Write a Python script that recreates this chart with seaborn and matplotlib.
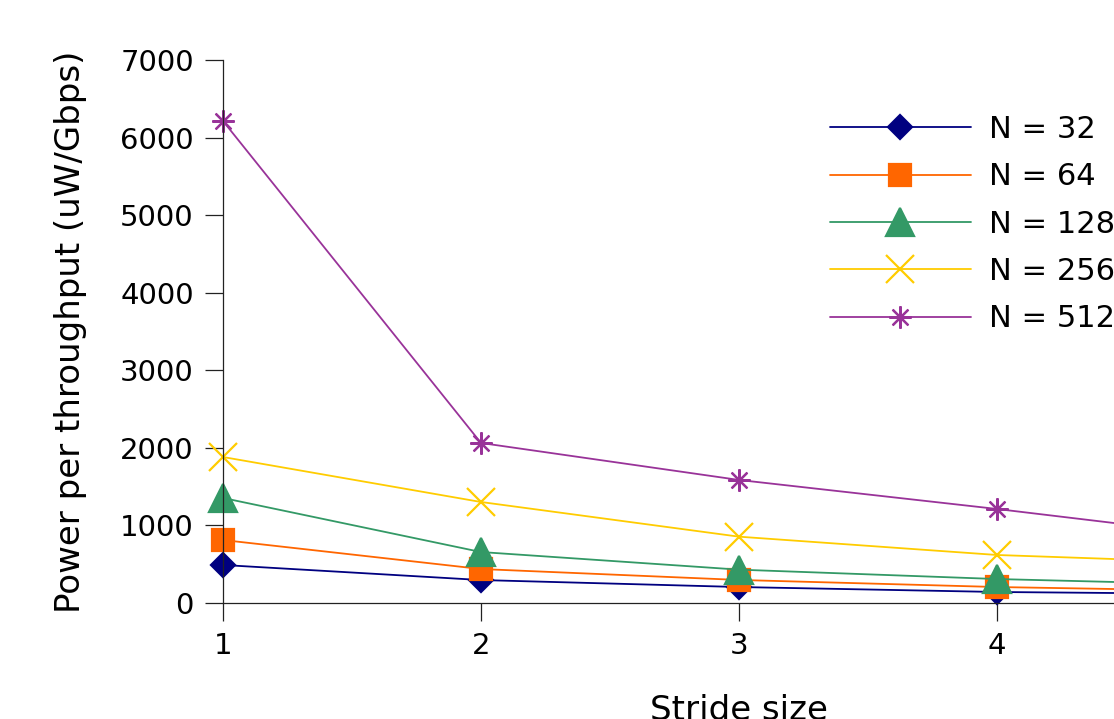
import pandas as pd
import seaborn as sns
import matplotlib.pyplot as plt

# valores
stride = [1, 2, 3, 4, 5]
n_labels = ["N = 32", "N = 64", "N = 128", "N = 256", "N = 512"]
n32 = [490, 296, 206, 142, 113]
n64 = [812, 438, 297, 206, 149]
n128 = [1354, 657, 430, 309, 225]
n256 = [1882, 1302, 855, 619, 504]
n512 = [6214, 2063, 1586, 1212, 813]

colors = ["#000080", "#FF6600", "#339966", "#FFCC00", "#993399"]
markers = ["D", "s", "^", "x", (8, 2, 0)]
msizes = [12, 16, 20, 20, 16]

df = pd.DataFrame({
    "stride": stride * 5,
    "value": n32 + n64 + n128 + n256 + n512,
    "serie": [lab for lab in n_labels for _ in stride],
})

sns.set_style("ticks")
plt.rcParams["font.family"] = ["DejaVu Sans"]
plt.rcParams["text.color"] = "black"
plt.rcParams["axes.labelcolor"] = "black"
plt.rcParams["xtick.color"] = "black"
plt.rcParams["ytick.color"] = "black"

fig = plt.figure(figsize=(11.14, 7.19), dpi=100)
ax = fig.add_axes([223 / 1114, 116 / 719, 1032 / 1114, 543 / 719])

for i, lab in enumerate(n_labels):
    sub = df[df["serie"] == lab]
    sns.lineplot(x="stride", y="value", data=sub, ax=ax, color=colors[i],
                 marker=markers[i], markersize=msizes[i], markeredgecolor=colors[i],
                 markeredgewidth=1.6, linewidth=1.3, label=lab, clip_on=False)

ax.set_xlim(1, 5)
ax.set_ylim(0, 7000)
ax.set_xticks(stride)
# la etiqueta 5 queda fuera de la imagen en el original
ax.set_xticklabels(["1", "2", "3", "4", ""])
ax.set_yticks(range(0, 7001, 1000))
ax.tick_params(labelsize=21, length=13, width=0.9, color="#222222", pad=8)
for s in ["left", "bottom"]:
    ax.spines[s].set_linewidth(0.9)
    ax.spines[s].set_color("#222222")
sns.despine(ax=ax)
ax.set_xlabel("Stride size", fontsize=24.5, labelpad=24)
ax.set_ylabel("Power per throughput (uW/Gbps)", fontsize=24.5, labelpad=24)

ax.legend(loc="upper left", bbox_to_anchor=(830 / 1114, 1 - 115 / 719),
          bbox_transform=fig.transFigure, frameon=False, fontsize=22,
          handlelength=4.6, handletextpad=0.6, labelspacing=0.6,
          borderpad=0, borderaxespad=0)

plt.savefig("out.png", dpi=100)
